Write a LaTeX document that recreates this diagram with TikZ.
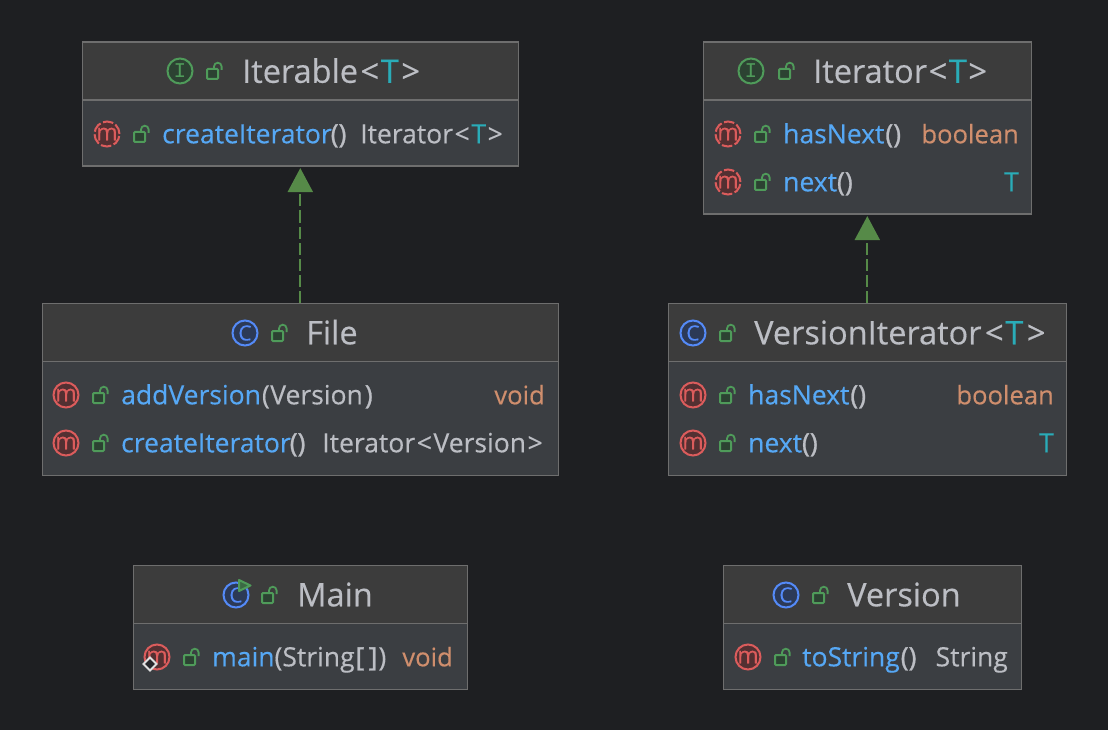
\documentclass[tikz,border=0pt]{standalone}
\usepackage{fontspec}
\setmainfont{Open Sans}[RawFeature={embolden=0.35}]
\newfontfamily\parenfont{Open Sans}[RawFeature={embolden=1.1}]
\newfontfamily\monoicon{Liberation Mono}
\usetikzlibrary{arrows.meta}
\definecolor{bgc}{HTML}{1E1F22}
\definecolor{hdrc}{HTML}{3C3C3C}
\definecolor{bodyc}{HTML}{3B3E42}
\definecolor{edgec}{HTML}{6E6E6E}
\definecolor{txtc}{HTML}{BCBEC4}
\definecolor{bluec}{HTML}{56A8F5}
\definecolor{orangec}{HTML}{CF8E6D}
\definecolor{tealc}{HTML}{2AACB8}
\definecolor{greenc}{HTML}{4F9B5A}
\definecolor{arrowc}{HTML}{568A48}
\definecolor{redc}{HTML}{DB5C5C}
\definecolor{cblue}{HTML}{548AF7}
\newcommand{\tlt}{\kern1.6pt<\kern1.6pt}
\newcommand{\tgt}{\kern1.6pt>}
\newcommand{\prn}[1]{{\parenfont #1}}
\tikzset{
  classbox/.style={draw=edgec,line width=1.6pt,fill=bodyc,rectangle,inner sep=0pt,anchor=north west},
  headbox/.style={draw=edgec,line width=1.6pt,fill=hdrc,rectangle,inner sep=0pt,anchor=north west},
  ttl/.style={inner sep=0pt,anchor=base west,text=txtc,yshift=0.7pt,font=\fontsize{32.5}{38}\selectfont},
  lbl/.style={inner sep=0pt,anchor=base west,text=txtc,yshift=0.7pt,font=\fontsize{26.5}{32}\selectfont},
  lblr/.style={lbl,anchor=base east},
  typ/.style={lblr,text=orangec,font=\fontsize{25.6}{32}\selectfont},
  icn/.style={circle,inner sep=0pt,minimum size=25pt,line width=2pt},
  micon/.style={icn,draw=redc,fill=redc!28!bgc,text=redc,font=\fontsize{23}{23}\selectfont},
  mdash/.style={micon,dash pattern=on 10.5pt off 2.6pt},
  iicon/.style={icn,draw=greenc,fill=greenc!28!bgc,text=greenc,font=\monoicon\fontsize{21}{21}\selectfont},
  cicon/.style={icn,draw=cblue,fill=cblue!25!bgc,text=cblue,font=\fontsize{21}{21}\selectfont},
  realize/.style={draw=arrowc,line width=2.2pt,dash pattern=on 12pt off 4pt,
     -{Triangle[length=24pt,width=25pt,fill=arrowc]},shorten >=1pt},
  lockpic/.pic={
    \draw[greenc,line width=2pt,fill=greenc!28!bgc,rounded corners=1pt] (-7,-2) rectangle (4,8);
    \draw[greenc,line width=1.8pt] (0,-3) -- (0,-4.5) arc[start angle=180,end angle=360,radius=3.8] -- (7.6,-1);
  }
}
\newcommand{\cbox}[6]{% name x0 y0 x1 ysplit y1
  \node[classbox,minimum width=#4pt-#2pt,minimum height=#6pt-#3pt] (#1) at (#2-0.5,#3-0.5) {};
  \node[headbox,minimum width=#4pt-#2pt,minimum height=#5pt-#3pt] (#1Head) at (#2-0.5,#3-0.5) {};
}
\begin{document}
\begin{tikzpicture}[x=1pt,y=-1pt]
\fill[bgc] (0,0) rectangle (1108,730);
\useasboundingbox (0,0) rectangle (1108,730);

\cbox{iterable}{82}{42}{518}{100}{166}
\cbox{iterator}{703}{42}{1031}{100}{214}
\cbox{file}{42}{303}{558}{361}{475}
\cbox{versionIterator}{668}{303}{1066}{361}{475}
\cbox{mainBox}{133}{565}{467}{623}{689}
\cbox{versionBox}{723}{565}{1021}{623}{689}

\draw[realize] (fileHead.north) -- (iterable.south);
\draw[realize] (versionIteratorHead.north) -- (iterator.south);

% Iterable
\node[iicon] (i1) at (180,71) {I};
\pic at (214,71) {lockpic};
\node[ttl] (iterableT) at (242,83.5) {Iterable\kern1pt\tlt\textcolor{tealc}{T}\kern1pt\tgt};
\node[mdash] (m1) at (107,134) {m};
\pic at (141,134) {lockpic};
\node[lbl] (iterableM) at (162,144) {\textcolor{bluec}{createIterator}\kern-1pt\prn{()}};
\node[lblr] (iterableR) at (503,144) {Iterator\tlt\textcolor{tealc}{T}\tgt};

% Iterator
\node[iicon] (i2) at (751,71) {I};
\pic at (786,71) {lockpic};
\node[ttl] (iteratorT) at (813,83.5) {Iterator\tlt\textcolor{tealc}{T}\tgt};
\node[mdash] (m2) at (728,134) {m};
\pic at (762,134) {lockpic};
\node[lbl] (iteratorM1) at (783,144) {\textcolor{bluec}{hasNext}\kern1pt\prn{()}};
\node[typ] (iteratorR1) at (1019,144) {boolean};
\node[mdash] (m3) at (728,182) {m};
\pic at (762,182) {lockpic};
\node[lbl] (iteratorM2) at (783,192) {\textcolor{bluec}{next}\prn{()}};
\node[lblr,text=tealc] (iteratorR2) at (1019,192) {T};

% File
\node[cicon] (c1) at (245,333) {C};
\pic at (279,333) {lockpic};
\node[ttl] (fileT) at (306,345) {File};
\node[micon] (m4) at (66,395) {m};
\pic at (100,395) {lockpic};
\node[lbl] (fileM1) at (121,405) {\textcolor{bluec}{addVersion}\kern1pt(\kern.5pt Version\kern2pt\prn{)}};
\node[typ] (fileR1) at (545,405) {void};
\node[micon] (m5) at (66,443) {m};
\pic at (100,443) {lockpic};
\node[lbl] (fileM2) at (121,453) {\textcolor{bluec}{createIterator}\kern-1pt\prn{()}};
\node[lblr] (fileR2) at (543,453) {Iterator\tlt Version\tgt};

% VersionIterator
\node[cicon] (c2) at (693,333) {C};
\pic at (727,333) {lockpic};
\node[ttl] (viT) at (754,345) {VersionIterator\kern2pt\tlt\textcolor{tealc}{T}\kern2pt\tgt};
\node[micon] (m6) at (693,395) {m};
\pic at (727,395) {lockpic};
\node[lbl] (viM1) at (748,405) {\textcolor{bluec}{hasNext}\kern1pt\prn{()}};
\node[typ] (viR1) at (1054,405) {boolean};
\node[micon] (m7) at (693,443) {m};
\pic at (727,443) {lockpic};
\node[lbl] (viM2) at (748,453) {\textcolor{bluec}{next}\prn{()}};
\node[lblr,text=tealc] (viR2) at (1054,453) {T};

% Main
\node[cicon] (c3) at (236,595) {C};
\fill[greenc!60!bgc,draw=greenc,line width=2pt,line join=round] (239,580) -- (250.5,585.5) -- (239,591) -- cycle;
\pic at (269,595) {lockpic};
\node[ttl] (mainT) at (297,607) {Main};
\node[micon] (m8) at (157,657) {m};
\fill[bgc!70!bodyc,draw=white!88!black,line width=2pt] (150,657.5) -- (156.5,664) -- (150,670.5) -- (143.5,664) -- cycle;
\pic at (191,657) {lockpic};
\node[lbl] (mainM) at (212,667) {\textcolor{bluec}{main}(String\kern1pt\prn{[\,]}\kern1pt)};
\node[typ] (mainR) at (453,667) {void};

% Version
\node[cicon] (c4) at (786,595) {C};
\pic at (820,595) {lockpic};
\node[ttl] (versionT) at (847,607) {Version};
\node[micon] (m9) at (748,657) {m};
\pic at (782,657) {lockpic};
\node[lbl] (versionM) at (802,667) {\textcolor{bluec}{toString}\kern1pt\prn{()}};
\node[lblr] (versionR) at (1008,667) {String};
\end{tikzpicture}
\end{document}
